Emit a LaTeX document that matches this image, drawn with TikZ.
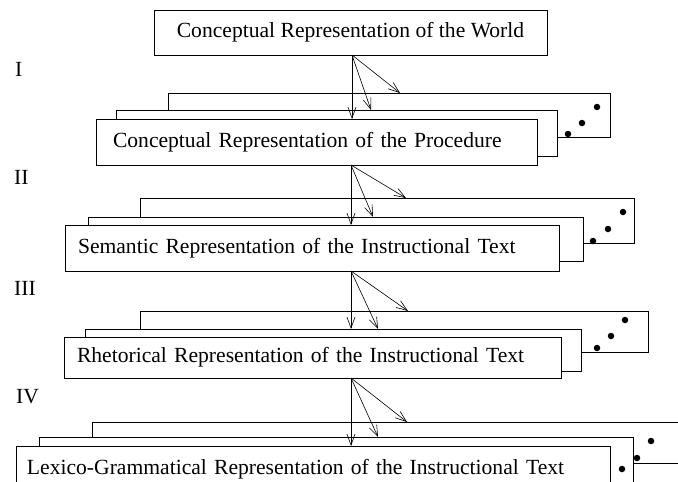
\documentclass[tikz,border=0pt]{standalone}
\usepackage{fontspec}
\setmainfont{Liberation Serif}
\usetikzlibrary{arrows.meta}
\begin{document}
\begin{tikzpicture}[x=1pt,y=-1pt,
  every node/.style={font=\fontsize{21.6}{24}\selectfont},
  box/.style={draw, line width=0.8pt, fill=white, anchor=north west, inner sep=0pt, outer sep=0pt},
  tbox/.style={box, align=left, inner ysep=0pt},
  arr/.style={-{Straight Barb[length=11pt,width=8pt]}, line width=0.6pt},
  dot/.style={circle, fill=black, draw=none, inner sep=0pt, minimum size=6.5pt},
  lab/.style={anchor=west, inner sep=0pt}]
\useasboundingbox (0,0) rectangle (678,482);
\clip (0,0) rectangle (678,482);

% top
\node[box, minimum width=393pt, minimum height=45pt] (top) at (154,10) {Conceptual Representation of the World};

% level 1
\node[box, minimum width=442pt, minimum height=44pt] (b1) at (168,93) {};
\node[box, minimum width=441pt, minimum height=46pt] (m1) at (116,110) {};
\node[tbox, minimum height=46pt, text width=407pt, inner xsep=17pt] (f1) at (96,119) {Conceptual Representation of the Procedure};
\node[dot] (d11) at (568,134) {};
\node[dot] (d12) at (582,123) {};
\node[dot] (d13) at (597,107) {};

% level 2
\node[box, minimum width=494pt, minimum height=45pt] (b2) at (140,198) {};
\node[box, minimum width=495pt, minimum height=44pt] (m2) at (88,217) {};
\node[tbox, minimum height=46pt, text width=468pt, inner xsep=13pt] (f2) at (65,225) {Semantic Representation of the Instructional Text};
\node[dot] (d21) at (593,241) {};
\node[dot] (d22) at (608,229) {};
\node[dot] (d23) at (623,212) {};

% level 3
\node[box, minimum width=508pt, minimum height=41pt] (b3) at (140,311) {};
\node[box, minimum width=496pt, minimum height=42pt] (m3) at (85,329) {};
\node[tbox, minimum height=41pt, text width=471pt, inner xsep=13pt] (f3) at (64,337) {Rhetorical Representation of the Instructional Text};
\node[dot] (d31) at (597,348) {};
\node[dot] (d32) at (611,336) {};
\node[dot] (d33) at (625,320) {};

% level 4
\node[box, minimum width=620pt, minimum height=41pt] (b4) at (92,422) {};
\node[box, minimum width=594pt, minimum height=46pt] (m4) at (39,437) {};
\node[tbox, minimum height=46pt, text width=572pt, inner xsep=11pt] (f4) at (16,446) {Lexico-Grammatical Representation of the Instructional Text};
\node[dot] (d41) at (622,469) {};
\node[dot] (d42) at (637,458) {};
\node[dot] (d43) at (651,441) {};

% labels
\node[lab] (l1) at (15,69) {I};
\node[lab] (l2) at (14,177) {II};
\node[lab] (l3) at (14,288) {III};
\node[lab] (l4) at (16,397) {IV};

% arrow sources and targets
\coordinate (s1) at (352,55);
\coordinate (t1a) at (352,119);
\coordinate (t1b) at (371,110);
\coordinate (t1c) at (400,93);
\coordinate (s2) at (351,165);
\coordinate (t2a) at (351,225);
\coordinate (t2b) at (373,217);
\coordinate (t2c) at (406,198);
\coordinate (s3) at (351,271);
\coordinate (t3a) at (351,329);
\coordinate (t3b) at (378,329);
\coordinate (t3c) at (408,311);
\coordinate (s4) at (351,378);
\coordinate (t4a) at (351,446);
\coordinate (t4b) at (378,437);
\coordinate (t4c) at (407,422);

\foreach \k in {1,2,3,4}{
  \draw[arr] (s\k) -- (t\k a);
  \draw[arr] (s\k) -- (t\k b);
  \draw[arr] (s\k) -- (t\k c);
}
\end{tikzpicture}
\end{document}
